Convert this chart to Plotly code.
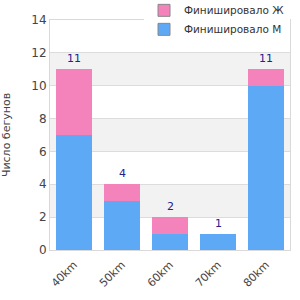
import plotly.graph_objects as go

categories = ["40km", "50km", "60km", "70km", "80km"]
finished_m = [7, 3, 1, 1, 10]
finished_f = [4, 1, 1, 0, 1]
totals = [m + f for m, f in zip(finished_m, finished_f)]
y_ticks = [0, 2, 4, 6, 8, 10, 12, 14]

col_m = "#5EA9F5"
col_f = "#F383BA"

fig = go.Figure()
fig.add_trace(go.Bar(x=categories, y=finished_m, name="Финишировало М",
                     marker=dict(color=col_m, line=dict(width=0)), showlegend=False))
fig.add_trace(go.Bar(x=categories, y=finished_f, name="Финишировало Ж",
                     marker=dict(color=col_f, line=dict(width=0)), showlegend=False))
# legend entries with grey bordered swatches
fig.add_trace(go.Bar(x=[None], y=[None], name="Финишировало М",
                     marker=dict(color=col_m, line=dict(width=1, color="#888"))))
fig.add_trace(go.Bar(x=[None], y=[None], name="Финишировало Ж",
                     marker=dict(color=col_f, line=dict(width=1, color="#888"))))

annotations = [dict(x=c, y=t, text=str(t), showarrow=False, yanchor="bottom",
                    yshift=2, font=dict(color="#22228f", size=11))
               for c, t in zip(categories, totals)]

shapes = []
for i in range(1, len(y_ticks) - 1, 2):
    shapes.append(dict(type="rect", xref="paper", yref="y", x0=0, x1=1,
                       y0=y_ticks[i], y1=y_ticks[i + 1],
                       fillcolor="#f2f2f2", line=dict(width=0), layer="below"))

fig.update_layout(
    width=300, height=300,
    margin=dict(l=50, r=10, t=20, b=50, autoexpand=False),
    barmode="stack", bargap=0.27,
    plot_bgcolor="white", paper_bgcolor="white",
    font=dict(family="DejaVu Sans", size=11, color="#444"),
    shapes=shapes,
    annotations=annotations,
    showlegend=True,
    legend=dict(x=1.0, xanchor="right", y=1.105, yanchor="top",
                traceorder="reversed", bgcolor="white",
                font=dict(size=10.5, color="#333"), tracegroupgap=0),
    xaxis=dict(tickangle=-45, showline=True, linecolor="#d9d9d9", mirror=True,
               ticks="", ticklabelstandoff=3, tickfont=dict(size=11, color="#444")),
    yaxis=dict(range=[0, 14], tickvals=y_ticks, showgrid=True, gridcolor="#dcdcdc",
               showline=True, linecolor="#d9d9d9", mirror=True, zeroline=False,
               title=dict(text="Число бегунов", font=dict(size=11, color="#444"), standoff=20),
               tickfont=dict(size=12, color="#444")),
)

fig.write_html("out.html")
